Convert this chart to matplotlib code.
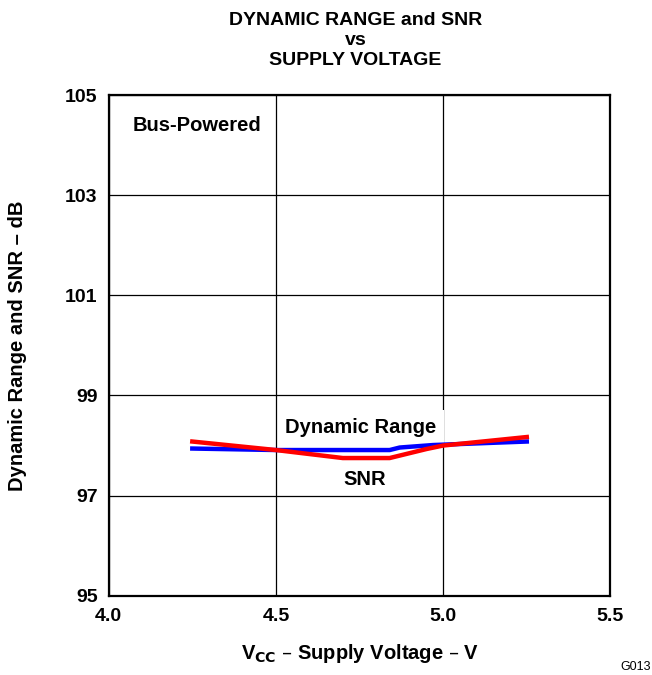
import matplotlib
matplotlib.use("Agg")
import matplotlib.pyplot as plt

plt.rcParams["font.family"] = ["Liberation Sans", "DejaVu Sans"]
plt.rcParams["font.weight"] = "bold"

# supply voltage (V) and measured values (dB)
dr_vcc = [4.25, 4.5, 4.84, 4.87, 4.97, 5.25]
dr_db = [97.94, 97.91, 97.91, 97.96, 98.01, 98.08]

snr_vcc = [4.25, 4.5, 4.7, 4.84, 4.95, 5.0, 5.25]
snr_db = [98.08, 97.91, 97.75, 97.75, 97.93, 98.0, 98.17]

x_ticks = [4.0, 4.5, 5.0, 5.5]
y_ticks = [95, 97, 99, 101, 103, 105]

fig = plt.figure(figsize=(6.52, 6.75), dpi=100)
ax = fig.add_axes([0.1667, 0.1175, 0.7695, 0.7415])

ax.plot(dr_vcc, dr_db, color="#0000ff", lw=3.2, zorder=3)
ax.plot(snr_vcc, snr_db, color="#ff0000", lw=3.2, zorder=4)

ax.set_xlim(4.0, 5.5)
ax.set_ylim(95, 105)
ax.set_xticks(x_ticks)
ax.set_xticklabels([f"{v:.1f}" for v in x_ticks])
ax.set_yticks(y_ticks)
ax.grid(True, color="black", lw=0.9)
ax.tick_params(length=0, labelsize=14)
ax.tick_params(axis="x", pad=9)
ax.tick_params(axis="y", pad=8)
for lab in ax.get_xticklabels() + ax.get_yticklabels():
    lab.set_fontweight("bold")
for s in ax.spines.values():
    s.set_linewidth(1.6)

ax.set_xlabel("V$_{\\mathbf{CC}}$ – Supply Voltage – V", fontsize=14.5, fontweight="bold", va="center")
ax.xaxis.set_label_coords(0.5, -0.1164)
ax.set_ylabel("Dynamic Range and SNR – dB", fontsize=14.5, fontweight="bold", va="center")
ax.yaxis.set_label_coords(-0.181, 0.5)

fig.text(0.545, 0.94, "DYNAMIC RANGE and SNR\nvs\nSUPPLY VOLTAGE", ha="center", va="center",
         fontsize=14, fontweight="bold", linespacing=1.2)

ax.text(4.072, 104.4, "Bus-Powered", fontsize=14.5, fontweight="bold", va="center", ha="left",
        bbox=dict(facecolor="white", edgecolor="none", pad=7), zorder=5)
ax.text(4.754, 98.37, "Dynamic Range", fontsize=14.5, fontweight="bold", va="center", ha="center",
        bbox=dict(facecolor="white", edgecolor="none", pad=5.5), zorder=2.5)
ax.text(4.766, 97.32, "SNR", fontsize=14.5, fontweight="bold", va="center", ha="center", zorder=5)

fig.text(0.998, 0.0119, "G013", ha="right", va="center", fontsize=9, fontweight="normal")

fig.savefig("out.png", dpi=100)
